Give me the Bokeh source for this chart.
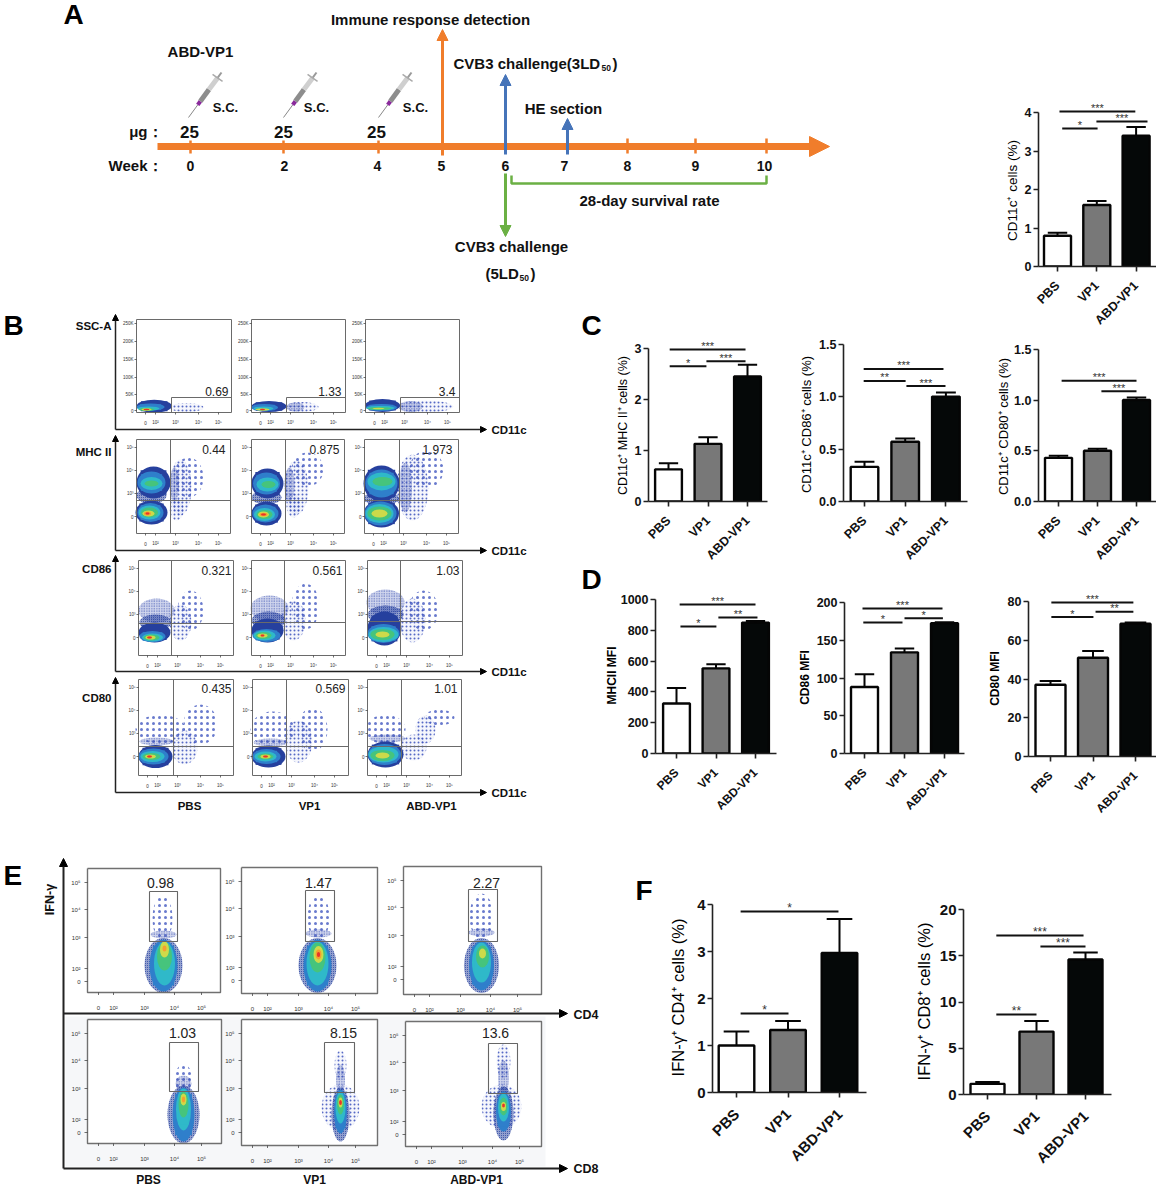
import math
from collections import defaultdict
from bokeh.plotting import figure
from bokeh.layouts import row, column
from bokeh.embed import file_html
from bokeh.resources import INLINE
from bokeh.core.properties import value
from bokeh.models import Arrow, NormalHead, FixedTicker

FONT = "Liberation Sans"
categories = ["PBS", "VP1", "ABD-VP1"]
fills = ["#ffffff", "#787878", "#050808"]

# ---------------- bar data -------------------
a_vals, a_errs = [0.8, 1.6, 3.4], [0.88, 1.7, 3.63]
c1_vals, c1_errs = [0.63, 1.13, 2.45], [0.75, 1.26, 2.68]
c2_vals, c2_errs = [0.33, 0.57, 1.0], [0.38, 0.60, 1.04]
c3_vals, c3_errs = [0.43, 0.50, 1.0], [0.45, 0.52, 1.025]
d1_vals, d1_errs = [325, 553, 850], [425, 580, 860]
d2_vals, d2_errs = [88, 134, 172.5], [105, 139, 174]
d3_vals, d3_errs = [37, 51, 68.5], [39, 54.5, 69.2]
f1_vals, f1_errs = [1.0, 1.33, 2.97], [1.3, 1.52, 3.69]
f2_vals, f2_errs = [1.15, 6.8, 14.6], [1.35, 7.95, 15.35]

a_br = [(0.05, 1.98, 4.03, "***"), (0.12, 1.02, 3.59, "*"), (0.99, 2.29, 3.77, "***")]
c1_br = [(0.03, 1.95, 2.98, "***"), (0.03, 0.96, 2.65, "*"), (0.96, 1.95, 2.75, "***")]
c2_br = [(-0.02, 1.94, 1.264, "***"), (-0.02, 1.01, 1.15, "**"), (1.03, 1.99, 1.10, "***")]
c3_br = [(0.08, 2.0, 1.19, "***"), (1.1, 2.0, 1.085, "***")]
d1_br = [(0.08, 2.0, 968, "***"), (0.1, 1.01, 825, "*"), (1.06, 2.05, 883, "**")]
d2_br = [(-0.05, 1.95, 192, "***"), (-0.03, 0.95, 173.5, "*"), (1.0, 1.96, 179, "*")]
d3_br = [(0.02, 1.95, 79.5, "***"), (0.02, 1.01, 72, "*"), (1.06, 1.95, 74.7, "**")]
f1_br = [(0.08, 1.98, 3.85, "*"), (0.08, 1.01, 1.68, "*")]
f2_br = [(0.18, 1.96, 17.2, "***"), (0.18, 1.0, 8.65, "**"), (1.08, 2.0, 16, "***")]


# ---------------- text batching helper ---------------
class Texts:
    def __init__(self):
        self.d = defaultdict(lambda: ([], [], []))
    def add(self, x, y, s, size=12, bold=False, align="center", color="#111111", angle=0):
        e = self.d[(size, bold, align, color, angle)]
        e[0].append(x); e[1].append(y); e[2].append(s)
    def draw(self, p):
        for (size, bold, align, color, angle), (xs, ys, ss) in self.d.items():
            p.text(xs, ys, text=ss, text_font=value(FONT), text_font_size=f"{size}px",
                   text_font_style="bold" if bold else "normal", text_align=align,
                   text_baseline="middle", text_color=color, angle=angle)

OVER = Texts()   # texts that lie outside a bar panel's frame

def bar_panel(tile, axis_x, right, y0px, toppx, ticks, labels, tick0, step, half,
              vals, errs, brackets, ylabel, ylab_xy, tsize=12.5, lsize=12.5, ysize=12.5, lbold=False,
              ssize=11, standoff=12):
    x0, y0, x1, y1 = tile
    top = ticks[-1]
    k = top / (y0px - toppx)
    p = figure(width=x1 - x0, height=y1 - y0, output_backend="svg", toolbar_location=None,
               x_range=((axis_x - tick0) / step, (right - tick0) / step),
               y_range=(0, (y0px - y0) * k),
               min_border_left=axis_x - x0, min_border_right=x1 - right,
               min_border_top=0, min_border_bottom=y1 - y0px, frame_align=False,
               background_fill_color=None, border_fill_color=None, outline_line_color=None)
    p.grid.visible = False
    hw = half / step
    p.vbar(x=[0, 1, 2], top=vals, width=2 * hw, bottom=0, fill_color=fills, line_color="#050505", line_width=2.4)
    cap = hw * 0.72
    p.segment([0, 1, 2], vals, [0, 1, 2], errs, line_color="#050505", line_width=2)
    p.segment([i - cap for i in range(3)], errs, [i + cap for i in range(3)], errs, line_color="#050505", line_width=2)
    for b0, b1, yv, s in brackets:
        p.segment([b0], [yv], [b1], [yv], line_color="#111111", line_width=2)
        p.text([(b0 + b1) / 2], [yv + 1.5 * k], text=[s], text_align="center", text_baseline="middle",
               text_font=value(FONT), text_font_size=f"{ssize}px", text_color="#333333", y_offset=-2)
    ya = p.yaxis[0]
    ya.bounds = (0, top)
    ya.ticker = FixedTicker(ticks=ticks)
    ya.major_label_overrides = {t: l for t, l in zip(ticks, labels)}
    ya.major_label_text_font = FONT
    ya.major_label_text_font_style = "bold"
    ya.major_label_text_font_size = f"{tsize}px"
    ya.major_label_text_color = "#111111"
    ya.major_tick_in = 0
    ya.major_tick_out = 5
    ya.minor_tick_line_color = None
    ya.major_tick_line_width = 1.6
    ya.axis_line_width = 1.6
    ya.major_tick_line_color = "#222222"
    ya.axis_line_color = "#222222"
    ya.major_label_standoff = 2
    xa = p.xaxis[0]
    xa.ticker = FixedTicker(ticks=[0, 1, 2])
    xa.major_label_overrides = {i: c for i, c in enumerate(categories)}
    xa.major_label_orientation = math.pi / 4
    xa.major_label_text_font = FONT
    xa.major_label_text_font_size = f"{lsize}px"
    xa.major_label_text_font_style = "bold"
    xa.major_label_text_color = "#111111"
    xa.major_tick_in = 0
    xa.major_tick_out = 5
    xa.minor_tick_line_color = None
    xa.major_tick_line_width = 1.6
    xa.axis_line_width = 1.6
    xa.major_tick_line_color = "#222222"
    xa.axis_line_color = "#222222"
    xa.major_label_standoff = standoff
    OVER.add(ylab_xy[0], ylab_xy[1], ylabel, size=ysize, bold=lbold, color="#000000", angle=math.pi / 2)
    return p


def canvas(tile):
    x0, y0, x1, y1 = tile
    p = figure(width=x1 - x0, height=y1 - y0, output_backend="svg", toolbar_location=None,
               x_range=(x0, x1), y_range=(y1, y0), min_border=0, frame_align=False,
               background_fill_color=None, border_fill_color=None, outline_line_color=None)
    p.axis.visible = False
    p.grid.visible = False
    return p

# ---------------- timeline ----------------
ORANGE, BLUE, GREEN = "#f07d2b", "#4674b9", "#6bb044"
week_labels = ["0", "2", "4", "5", "6", "7", "8", "9", "10"]
week_px = [190, 283, 378, 442, 505, 567, 627, 695, 766]
week_label_px = [190, 284, 377, 441, 505, 564, 627, 695, 764]
dose_labels = ["25", "25", "25"]

tl = canvas((0, 0, 972, 312))
T = Texts()
tl.add_layout(Arrow(end=NormalHead(size=20, fill_color=ORANGE, line_color=ORANGE), x_start=157, y_start=146,
                    x_end=829, y_end=146, line_color=ORANGE, line_width=7))
tl.segment(week_px[:3], [140] * 3, week_px[:3], [153] * 3, line_color=ORANGE, line_width=2.5)
tl.segment(week_px[6:], [138] * 3, week_px[6:], [153] * 3, line_color=ORANGE, line_width=2.5)
tl.add_layout(Arrow(end=NormalHead(size=11, fill_color=ORANGE, line_color=ORANGE), x_start=442, y_start=155,
                    x_end=442, y_end=29, line_color=ORANGE, line_width=3))
tl.add_layout(Arrow(end=NormalHead(size=11, fill_color=BLUE, line_color=BLUE), x_start=505, y_start=154,
                    x_end=505, y_end=74, line_color=BLUE, line_width=3))
tl.add_layout(Arrow(end=NormalHead(size=11, fill_color=BLUE, line_color=BLUE), x_start=567, y_start=154,
                    x_end=567, y_end=118, line_color=BLUE, line_width=3))
tl.add_layout(Arrow(end=NormalHead(size=11, fill_color=GREEN, line_color=GREEN), x_start=505, y_start=173,
                    x_end=505, y_end=236, line_color=GREEN, line_width=3))
tl.line([511, 511, 766, 766], [175, 183, 183, 175], line_color=GREEN, line_width=2.5)
for s, x in zip(dose_labels, [189, 283, 376]):
    T.add(x, 131, s, size=17, bold=True)
for s, x in zip(week_labels, week_label_px):
    T.add(x, 165, s, size=14, bold=True)
T.add(162, 131, "μg：", size=15, bold=True, align="right")
T.add(162, 165, "Week：", size=15, bold=True, align="right")
T.add(200, 51, "ABD-VP1", size=15, bold=True)
T.add(430, 19, "Immune response detection", size=15, bold=True)
T.add(453, 63, "CVB3 challenge(3LD", size=15, bold=True, align="left")
T.add(601, 67, "50", size=8.5, bold=True, align="left")
T.add(612, 63, ")", size=15, bold=True, align="left")
T.add(563, 108, "HE section", size=15, bold=True)
T.add(649, 200, "28-day survival rate", size=15, bold=True)
T.add(511, 246, "CVB3 challenge", size=15, bold=True)
T.add(485, 273, "(5LD", size=15, bold=True, align="left")
T.add(519, 277, "50", size=8.5, bold=True, align="left")
T.add(530, 273, ")", size=15, bold=True, align="left")
for x in [225, 316, 415]:
    T.add(x, 107, "S.C.", size=13, bold=True)
T.add(63, 14, "A", size=28, bold=True, align="left", color="black")
for tipx in [188, 283, 378]:
    dx, dy = 33, -45
    pt = lambda t, o=0: (tipx + dx * t + o, 117 + dy * t + o * 0.7)
    for t0, t1, col, w in [(0, 0.28, "#888888", 1), (0.28, 0.36, "#8a2a9c", 4), (0.36, 0.62, "#8d8d8d", 5),
                           (0.62, 0.88, "#cfcfcf", 5), (0.88, 1.0, "#9a9a9a", 2)]:
        a, b = pt(t0), pt(t1)
        tl.line([a[0], b[0]], [a[1], b[1]], line_color=col, line_width=w)
    a, b = pt(0.88, -5), pt(0.88, 5)
    tl.line([a[0], b[0]], [a[1], b[1]], line_color="#aaaaaa", line_width=1.5)
T.draw(tl)

# ---------------- flow-plot tables (panel-local pixels) ----------------
LEVELS = ["#26409e", "#2f7fcb", "#2fb9c9", "#46c47c", "#cdda4a", "#f5a030", "#e8342a"]

# (cx, cy, w, h, level)
ssc_pbs = [(17.7, 86.7, 35, 13, 0), (14, 87.5, 28, 7, 1), (12, 89, 22, 4, 2), (10, 90, 16, 2.5, 3), (10, 90, 10, 2, 4), (10, 90, 6, 1.5, 6)]
ssc_vp1 = [(17.5, 87, 35, 11, 0), (13, 88, 27, 7, 1), (12, 89, 20, 4, 2), (11, 90, 14, 2, 4), (11, 90, 5, 1.5, 6)]
ssc_abd = [(17, 86, 35, 13, 0), (16, 88, 31, 7, 1), (15, 88.5, 28, 4, 2), (14, 89, 24, 2.5, 3), (13, 89, 12, 1.5, 4)]
mhc_pbs = [(17, 43, 34, 32, 0), (15, 43, 28, 22, 1), (15, 44, 22, 13, 2), (15, 44, 14, 6, 3),
           (15, 73, 32, 24, 0), (14, 73, 26, 19, 1), (13, 73, 22, 14, 2), (13, 73, 17, 10, 3), (12, 74, 12, 6, 4), (11, 74, 7, 4, 5), (11, 74, 4, 2, 6)]
mhc_vp1 = [(16, 44, 32, 30, 0), (15, 44, 27, 22, 1), (16, 45, 22, 14, 2), (17, 45, 14, 7, 3),
           (15, 74, 30, 24, 0), (14, 74, 26, 18, 1), (13, 75, 21, 13, 2), (13, 75, 16, 9, 3), (12, 75, 11, 6, 4), (12, 75, 8, 3.5, 5), (12, 75, 5, 2, 6)]
mhc_abd = [(17, 44, 36, 36, 0), (17, 44, 32, 28, 1), (17, 42, 28, 18, 2), (18, 42, 20, 9, 3),
           (17, 74, 35, 28, 0), (16, 74, 32, 24, 1), (15, 74, 28, 19, 2), (15, 74, 24, 14, 3), (15, 74, 16, 8, 4)]
cd86_pbs = [(16, 72, 32, 20, 0), (14, 76, 26, 11, 1), (14, 77, 21, 8, 2), (13, 77, 16, 6, 3), (12, 77, 10, 4, 4), (11, 77, 5, 2, 6)]
cd86_vp1 = [(16, 70, 32, 24, 0), (15, 75, 28, 13, 1), (13, 75, 22, 10, 2), (12, 75, 16, 7, 3), (11, 75, 10, 4, 4), (11, 75, 4, 2, 6)]
cd86_abd = [(17, 68, 34, 34, 0), (16, 73, 32, 19, 1), (16, 74, 30, 15, 2), (15, 74, 24, 11, 3), (15, 74, 14, 6, 4)]
cd80_pbs = [(17, 77, 34, 23, 0), (15, 77, 30, 16, 1), (14, 77, 24, 11, 2), (13, 77, 18, 7, 3), (12, 77, 11, 4, 4), (11, 77, 5, 2, 6)]
cd80_vp1 = [(16, 77, 34, 22, 0), (14, 77, 28, 15, 1), (13, 77, 22, 10, 2), (13, 77, 16, 6, 3), (13, 77, 10, 4, 4), (13, 77, 5, 2, 6)]
cd80_abd = [(18, 75, 36, 26, 0), (17, 75, 33, 21, 1), (16, 75, 30, 16, 2), (15, 76, 24, 11, 3), (15, 76, 14, 6, 4)]

# scatter clouds (cx, cy, w, h): rare, light, medium, dense
ssc_rare = [[], [], []]
ssc_sparse = [[(50, 88, 34, 9)], [(50, 87.5, 34, 10)], [(60, 87, 55, 12)]]
ssc_medium = [[], [(44, 87.5, 18, 9)], [(45, 87, 24, 11)]]
ssc_dense = [[], [], []]
mhc_rare = [[(52, 38, 30, 40)], [(56, 30, 32, 34)], [(62, 30, 34, 38)]]
mhc_sparse = [[(44, 48, 22, 56), (40, 70, 14, 22)], [(45, 48, 24, 54), (42, 66, 14, 24)], [(48, 48, 32, 66)]]
mhc_medium = [[(38, 45, 9, 34)], [(38, 45, 10, 34)], [(41, 48, 13, 50)]]
mhc_dense = [[(15, 56, 30, 16)], [(15, 58, 30, 14)], [(17, 59, 35, 14)]]
cd86_rare = [[(52, 50, 26, 40)], [(54, 46, 28, 46)], [(56, 50, 30, 40)]]
cd86_sparse = [[(42, 62, 22, 36)], [(42, 60, 24, 40)], [(45, 60, 26, 44)]]
cd86_medium = [[(18, 50, 36, 24)], [(18, 48, 38, 26)], [(18, 42, 38, 26)]]
cd86_dense = [[(17, 62, 32, 16)], [(17, 60, 34, 18)], [(18, 54, 36, 18)]]
cd80_rare = [[(22, 50, 50, 30), (62, 45, 34, 40)], [(20, 50, 44, 36), (60, 50, 30, 44)], [(18, 50, 40, 30), (72, 38, 30, 16)]]
cd80_sparse = [[(46, 68, 26, 34)], [(46, 62, 28, 42)], [(46, 68, 26, 26), (58, 50, 20, 28)]]
cd80_medium = [[(18, 62, 34, 8)], [(18, 63, 34, 8)], [(20, 59, 36, 8)]]
cd80_dense = [[], [], []]

b_boxes = [[(136, 319, 231, 412), (251, 319, 345, 412), (365, 319, 459, 412)],
           [(136, 439, 230, 533), (251, 439, 344, 533), (364, 439, 458, 533)],
           [(138, 560, 233, 655), (251, 560, 345, 655), (367, 560, 462, 655)],
           [(138, 679, 233, 775), (252, 679, 348, 775), (367, 679, 461, 775)]]
b_v = [[171, 286, 400], [170, 285, 399], [171, 284, 400], [173, 286, 401]]
b_h = [[397, 397, 397], [500, 500, 500], [623, 622, 621], [746, 746, 746]]
b_numbers = [["0.69", "1.33", "3.4"], ["0.44", "0.875", "1.973"], ["0.321", "0.561", "1.03"], ["0.435", "0.569", "1.01"]]
b_num_y = [391, 449, 570, 688]
b_num_pad = [[3, 4, 4], [5, 5, 6], [2, 3, 3], [2, 3, 4]]
b_blobs = [[ssc_pbs, ssc_vp1, ssc_abd], [mhc_pbs, mhc_vp1, mhc_abd], [cd86_pbs, cd86_vp1, cd86_abd], [cd80_pbs, cd80_vp1, cd80_abd]]
b_rare = [ssc_rare, mhc_rare, cd86_rare, cd80_rare]
b_sparse = [ssc_sparse, mhc_sparse, cd86_sparse, cd80_sparse]
b_medium = [ssc_medium, mhc_medium, cd86_medium, cd80_medium]
b_dense = [ssc_dense, mhc_dense, cd86_dense, cd80_dense]
b_row_names = ["SSC-A", "MHC II", "CD86", "CD80"]
b_row_name_y = [325, 451, 568, 697]
b_axis_bottom = [429, 550, 671, 792]
b_axis_top = [314, 435, 555, 677]
ssc_ticks = ["250K", "200K", "150K", "100K", "50K", "0"]
ssc_tick_y = [4, 22, 40, 58, 75, 91]
log_ticks = ["10⁵", "10⁴", "10³", "0"]
log_tick_y = [8, 31, 54, 77]
x_ticks = ["0", "10²", "10³", "10⁴", "10⁵"]
x_tick_x = [9, 19, 39, 62, 82]

e_boxes = [[(87, 868, 220, 992), (241, 867, 377, 993), (403, 866, 541, 994)],
           [(87, 1019, 221, 1143), (241, 1019, 377, 1145), (405, 1021, 541, 1146)]]
e_gates = [[(149, 891, 177, 941), (305, 890, 334, 941), (468, 889, 497, 941)],
           [(169, 1042, 198, 1091), (324, 1042, 354, 1092), (488, 1043, 517, 1093)]]
e_numbers = [["0.98", "1.47", "2.27"], ["1.03", "8.15", "13.6"]]
e_num_x = [[160, 318, 486], [182, 343, 495]]
e_num_y = [882, 1032]
e_blobs = [[[(76, 97, 28, 52, 1), (77, 95, 21, 44, 2), (77, 88, 15, 28, 3), (77, 81, 9, 16, 4), (77, 80, 4, 6, 5)],
            [(76, 98, 28, 52, 1), (76, 96, 22, 44, 2), (76, 90, 16, 30, 3), (77, 87, 10, 17, 4), (77, 87, 6, 10, 5), (77, 87, 3, 5, 6)],
            [(78, 99, 25, 50, 1), (78, 96, 19, 40, 2), (79, 90, 13, 22, 3), (79, 87, 7, 10, 4)]],
           [[(96, 95, 22, 54, 1), (96, 90, 15, 42, 2), (96, 85, 10, 26, 3), (96, 80, 6, 12, 4), (96, 80, 3, 6, 5)],
            [(99, 92, 13, 44, 1), (99, 88, 10, 32, 2), (99, 85, 7, 20, 3), (99, 83, 4, 10, 4), (99, 83, 2.5, 5, 6)],
            [(98, 90, 15, 40, 1), (98, 86, 11, 28, 2), (98, 85, 8, 18, 3), (98, 85, 5, 9, 4), (98, 84, 2.5, 4, 6)]]]
e_rare = [[[(75, 50, 20, 46)], [(77, 50, 22, 46)], [(78, 50, 24, 46)]],
          [[(96, 60, 18, 30)], [], []]]
e_sparse = [[[], [], []],
            [[], [(99, 88, 38, 46), (99, 46, 12, 30)], [(96, 85, 40, 44), (98, 40, 14, 34)]]]
e_medium = [[[(76, 66, 26, 8)], [(77, 66, 26, 8)], [(78, 66, 26, 8)]],
            [[(96, 64, 16, 16)], [(99, 60, 9, 30)], [(98, 56, 11, 34)]]]
e_dense = [[[(76, 97, 38, 55)], [(76, 98, 38, 55)], [(78, 99, 35, 55)]],
           [[(96, 95, 32, 58)], [(99, 95, 18, 54)], [(98, 92, 20, 54)]]]
e_y_ticks = ["10⁵", "10⁴", "10³", "10²", "0"]
e_y_tick_y = [14, 41, 69, 100, 113]
e_x_ticks = ["0", "10²", "10³", "10⁴", "10⁵"]
e_x_tick_x = [11, 26, 57, 87, 114]

def stipple(p, items, scale, weight, alpha, color, wash):
    rows = [(ox + s[0], oy + s[1], s[2], s[3]) for ox, oy, sp in items for s in sp]
    if not rows:
        return
    xs, ys, ws, hs = zip(*rows)
    p.ellipse(xs, ys, width=ws, height=hs, fill_color=color, fill_alpha=wash, line_color=None,
              hatch_pattern="dot", hatch_color=color, hatch_scale=scale, hatch_weight=weight, hatch_alpha=alpha)

def draw_flow(p, o_blobs, o_rare, o_sparse, o_medium, o_dense):
    stipple(p, o_rare, 6, 0.3, 0.8, "#4459c0", 0.0)
    stipple(p, o_sparse, 4, 0.45, 0.85, "#3a50bc", 0.05)
    stipple(p, o_medium, 2.5, 0.7, 0.9, "#2e46ae", 0.22)
    stipple(p, o_dense, 2, 0.7, 0.95, "#26409e", 0.5)
    per = defaultdict(list)
    for ox, oy, blobs in o_blobs:
        for cx, cy, w, h, lv in blobs:
            per[lv].append((ox + cx, oy + cy, w, h))
    for lv in sorted(per):
        xs, ys, ws, hs = zip(*per[lv])
        f = 0.76 if lv < 2 else 0.7
        p.ellipse(xs, ys, width=ws, height=hs, fill_color=LEVELS[lv], line_color=None)
        p.rect(xs, ys, width=[w * f for w in ws], height=[h * f for h in hs], fill_color=LEVELS[lv], line_color=None)

def with_origin(boxes, table):
    return [(boxes[r][c][0], boxes[r][c][1], table[r][c]) for r in range(len(boxes)) for c in range(3)]

# ---------------- Panel B ----------------
pb = canvas((0, 312, 578, 830))
T = Texts()
draw_flow(pb, with_origin(b_boxes, b_blobs), with_origin(b_boxes, b_rare), with_origin(b_boxes, b_sparse),
          with_origin(b_boxes, b_medium), with_origin(b_boxes, b_dense))
GR = "#6a6a6a"
for r in range(4):
    for c in range(3):
        x0, y0, x1, y1 = b_boxes[r][c]
        pb.line([x0, x1, x1, x0, x0], [y0, y0, y1, y1, y0], line_color=GR, line_width=1)
        if r == 0:
            pb.line([b_v[r][c], x1], [b_h[r][c]] * 2, line_color=GR, line_width=1)
            pb.line([b_v[r][c]] * 2, [b_h[r][c], y1], line_color=GR, line_width=1)
            labs, ly = ssc_ticks, ssc_tick_y
        else:
            pb.line([b_v[r][c]] * 2, [y0, y1], line_color=GR, line_width=1)
            pb.line([x0, x1], [b_h[r][c]] * 2, line_color=GR, line_width=1)
            labs, ly = log_ticks, log_tick_y
        for s, yy in zip(labs, ly):
            T.add(x0 - 3, y0 + yy, s, size=4.5, align="right", color="#333333")
        pb.segment([x0 - 2] * len(ly), [y0 + v for v in ly], [x0] * len(ly), [y0 + v for v in ly], line_color="#333333", line_width=0.7)
        pb.segment([x0 + v for v in x_tick_x], [y1] * 5, [x0 + v for v in x_tick_x], [y1 + 2] * 5, line_color="#333333", line_width=0.7)
        for s, xx in zip(x_ticks, x_tick_x):
            T.add(x0 + xx, y1 + 10, s, size=4.5, color="#333333")
        T.add(x1 - b_num_pad[r][c], b_num_y[r], b_numbers[r][c], size=12, align="right", color="#222222")
    T.add(111, b_row_name_y[r], b_row_names[r], size=11.5, bold=True, align="right")
    yb = b_axis_bottom[r]
    pb.add_layout(Arrow(end=NormalHead(size=6, fill_color="black", line_color="black"), x_start=115, y_start=yb, x_end=115, y_end=b_axis_top[r], line_color="#222222", line_width=1.5))
    pb.add_layout(Arrow(end=NormalHead(size=6, fill_color="black", line_color="black"), x_start=115, y_start=yb, x_end=486, y_end=yb, line_color="#222222", line_width=1.5))
    T.add(491, yb, "CD11c", size=11.5, bold=True, align="left")
for s, x in zip(categories, [189, 309, 431]):
    T.add(x, 805, s, size=11.5, bold=True)
T.add(3, 325, "B", size=28, bold=True, align="left", color="black")
T.draw(pb)

# ---------------- Panel E ----------------
pe = canvas((0, 830, 630, 1186))
T = Texts()
pe.quad(left=[65], right=[545], top=[1016], bottom=[1166], fill_color="#f6f7f9", line_color=None)
for r in range(2):
    for c in range(3):
        x0, y0, x1, y1 = e_boxes[r][c]
        pe.quad(left=[x0], right=[x1], top=[y0], bottom=[y1], fill_color="white", line_color=None)
draw_flow(pe, with_origin(e_boxes, e_blobs), with_origin(e_boxes, e_rare), with_origin(e_boxes, e_sparse),
          with_origin(e_boxes, e_medium), with_origin(e_boxes, e_dense))
GE = "#707070"
for r in range(2):
    for c in range(3):
        x0, y0, x1, y1 = e_boxes[r][c]
        pe.line([x0, x1, x1, x0, x0], [y0, y0, y1, y1, y0], line_color=GE, line_width=1.4)
        g0, g1, g2, g3 = e_gates[r][c]
        pe.line([g0, g2, g2, g0, g0], [g1, g1, g3, g3, g1], line_color="#666666", line_width=1.1)
        T.add(e_num_x[r][c], e_num_y[r], e_numbers[r][c], size=14, color="#222222")
        for s, yy in zip(e_y_ticks, e_y_tick_y):
            T.add(x0 - 7, y0 + yy, s, size=6, align="right", color="#333333")
        pe.segment([x0 - 3] * 5, [y0 + v for v in e_y_tick_y], [x0] * 5, [y0 + v for v in e_y_tick_y], line_color="#333333", line_width=0.7)
        pe.segment([x0 + v for v in e_x_tick_x], [y1] * 5, [x0 + v for v in e_x_tick_x], [y1 + 2.5] * 5, line_color="#333333", line_width=0.7)
        for s, xx in zip(e_x_ticks, e_x_tick_x):
            T.add(x0 + xx, y1 + 15, s, size=6, color="#333333")
AH = lambda: NormalHead(size=8, fill_color="black", line_color="black")
pe.add_layout(Arrow(end=AH(), x_start=63, y_start=1168, x_end=63, y_end=858, line_color="#222222", line_width=2))
pe.add_layout(Arrow(end=AH(), x_start=63, y_start=1013, x_end=567, y_end=1013, line_color="#222222", line_width=2))
pe.add_layout(Arrow(end=AH(), x_start=63, y_start=1168, x_end=567, y_end=1168, line_color="#222222", line_width=2))
T.add(573, 1014, "CD4", size=12.5, bold=True, align="left")
T.add(573, 1168, "CD8", size=12.5, bold=True, align="left")
T.add(49, 899, "IFN-γ", size=12.5, bold=True, angle=math.pi / 2)
for s, x in zip(categories, [148, 314, 476]):
    T.add(x, 1179, s, size=12, bold=True)
T.add(3, 875, "E", size=28, bold=True, align="left", color="black")
T.draw(pe)

# ---------------- Bars ----------------
pa = bar_panel((972, 0, 1156, 335), 1038, 1156, 268, 113, [0, 1, 2, 3, 4], ["0", "1", "2", "3", "4"], 1057, 39.3, 13.5,
               a_vals, a_errs, a_br, "CD11c⁺ cells (%)", (1012, 190), ysize=13.5)
pc1 = bar_panel((578, 312, 795, 570), 648, 767, 501, 348, [0, 1, 2, 3], ["0", "1", "2", "3"], 668, 39.5, 13.4,
                c1_vals, c1_errs, c1_br, "CD11c⁺ MHC II⁺ cells (%)", (622, 425), ysize=12.5)
pc2 = bar_panel((795, 312, 972, 570), 843, 967, 503, 344, [0, 0.5, 1.0, 1.5], ["0.0", "0.5", "1.0", "1.5"], 864, 40.7, 13.8,
                c2_vals, c2_errs, c2_br, "CD11c⁺ CD86⁺ cells (%)", (806, 424), ysize=13)
pc3 = bar_panel((972, 335, 1156, 570), 1038, 1156, 504, 349, [0, 0.5, 1.0, 1.5], ["0.0", "0.5", "1.0", "1.5"], 1058, 39, 13.5,
                c3_vals, c3_errs, c3_br, "CD11c⁺ CD80⁺ cells (%)", (1003, 426), ysize=13)
pd1 = bar_panel((578, 570, 795, 830), 655, 776, 753, 599, [0, 200, 400, 600, 800, 1000], ["0", "200", "400", "600", "800", "1000"], 676, 39.5, 13.4,
                d1_vals, d1_errs, d1_br, "MHCII MFI", (611, 675), lsize=12, ysize=12, lbold=True)
pd2 = bar_panel((795, 570, 972, 830), 844, 964, 753, 602, [0, 50, 100, 150, 200], ["0", "50", "100", "150", "200"], 864, 40, 13.5,
                d2_vals, d2_errs, d2_br, "CD86 MFI", (804, 677), lsize=12, ysize=12, lbold=True)
pd3 = bar_panel((972, 570, 1156, 830), 1028, 1156, 756, 601, [0, 20, 40, 60, 80], ["0", "20", "40", "60", "80"], 1050, 42.5, 15,
                d3_vals, d3_errs, d3_br, "CD80 MFI", (994, 678), lsize=12, ysize=12, lbold=True)
pf1 = bar_panel((630, 830, 890, 1186), 712, 866, 1092, 904, [0, 1, 2, 3, 4], ["0", "1", "2", "3", "4"], 736, 51.5, 17.8,
                f1_vals, f1_errs, f1_br, "IFN-γ⁺ CD4⁺ cells (%)", (677, 997), tsize=15, lsize=15, ysize=16.5, ssize=12, standoff=14)
pf2 = bar_panel((890, 830, 1156, 1186), 963, 1111, 1094, 909, [0, 5, 10, 15, 20], ["0", "5", "10", "15", "20"], 987, 49, 17,
                f2_vals, f2_errs, f2_br, "IFN-γ⁺ CD8⁺ cells (%)", (923, 1001), tsize=15, lsize=15, ysize=16.5, ssize=12, standoff=14)

OVER.add(581, 325, "C", size=28, bold=True, align="left", color="black")
OVER.add(581, 579, "D", size=28, bold=True, align="left", color="black")
OVER.add(635, 890, "F", size=28, bold=True, align="left", color="black")
over = canvas((0, 0, 1156, 1186))
over.margin = (-1186, 0, 0, 0)
OVER.draw(over)

layout = column(
    row(
        column(tl, row(pb, column(row(pc1, pc2), row(pd1, pd2)))),
        column(pa, pc3, pd3),
    ),
    row(pe, pf1, pf2),
    over,
)
open("out.html", "w").write(file_html(layout, INLINE))
